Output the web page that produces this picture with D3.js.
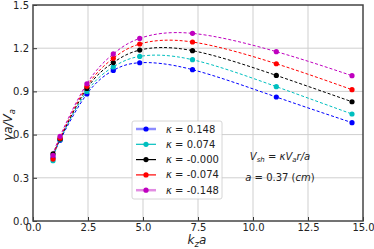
<!DOCTYPE html>
<html>
<head>
<meta charset="utf-8">
<script src="https://cdn.jsdelivr.net/npm/d3@7"></script>
<style>
  body { margin: 0; background: #fff; }
  text { font-family: "DejaVu Sans", sans-serif; }
</style>
</head>
<body>
<div id="chart"></div>
<script>
// data
var kza = [0.91, 1.23, 2.45, 3.65, 4.85, 7.25, 11.06, 14.5];
var kappas = ["0.148", "0.074", "-0.000", "-0.074", "-0.148"];
var colors = ["#0000ff", "#00bfbf", "#000000", "#ff0000", "#bf00bf"];
var gBlue    = [0.44, 0.56, 0.882, 1.046, 1.099, 1.051, 0.861, 0.683];
var gCyan    = [0.419, 0.565, 0.90, 1.07, 1.143, 1.12, 0.933, 0.743];
var gBlack   = [0.467, 0.57, 0.92, 1.10, 1.187, 1.183, 1.011, 0.828];
var gRed     = [0.43, 0.575, 0.935, 1.13, 1.229, 1.243, 1.092, 0.912];
var gMagenta = [0.456, 0.588, 0.953, 1.16, 1.268, 1.303, 1.176, 1.009];
var series = [gBlue, gCyan, gBlack, gRed, gMagenta];
var xTicks = [0, 2.5, 5, 7.5, 10, 12.5, 15];
var yTicks = [0, 0.3, 0.6, 0.9, 1.2, 1.5];

var svgWidth = 374, svgHeight = 249;
var margin = {top: 5, right: 11, bottom: 28, left: 33};
var width = svgWidth - margin.left - margin.right;
var height = svgHeight - margin.top - margin.bottom;

var svg = d3.select("#chart").append("svg")
  .attr("width", svgWidth)
  .attr("height", svgHeight);

var chartGroup = svg.append("g")
  .attr("transform", `translate(${margin.left}, ${margin.top})`);

var x = d3.scaleLinear().domain([0, 15]).range([0, width]);
var y = d3.scaleLinear().domain([0, 1.5]).range([height, 0]);

// grid
chartGroup.append("g").selectAll("line").data(xTicks.slice(1, -1)).enter().append("line")
  .attr("x1", d => x(d)).attr("x2", d => x(d)).attr("y1", 0).attr("y2", height)
  .attr("stroke", "#cfcfcf").attr("stroke-width", 1);
chartGroup.append("g").selectAll("line").data(yTicks.slice(1, -1)).enter().append("line")
  .attr("y1", d => y(d)).attr("y2", d => y(d)).attr("x1", 0).attr("x2", width)
  .attr("stroke", "#cfcfcf").attr("stroke-width", 1);

// axes, ticks pointing inward
var bottomAxis = d3.axisBottom(x).tickValues(xTicks).tickFormat(d3.format(".1f")).tickSizeInner(-4).tickSizeOuter(0).tickPadding(4);
var leftAxis = d3.axisLeft(y).tickValues(yTicks).tickFormat(d3.format(".1f")).tickSizeInner(-4).tickSizeOuter(0).tickPadding(4);

var gx = chartGroup.append("g").attr("transform", `translate(0, ${height})`).call(bottomAxis);
var gy = chartGroup.append("g").call(leftAxis);
[gx, gy].forEach(g => {
  g.select(".domain").remove();
  g.selectAll("line").attr("stroke", "#333");
  g.selectAll("text").attr("font-size", 10).attr("fill", "#222")
    .style("font-family", "'DejaVu Sans', sans-serif");
});
gx.selectAll("text").attr("dy", "0.6em");

// curves
var line = d3.line()
  .x((d, i) => x(kza[i]))
  .y(d => y(d))
  .curve(d3.curveNatural);

series.forEach((s, k) => {
  chartGroup.append("path")
    .datum(s)
    .attr("d", line)
    .attr("fill", "none")
    .attr("stroke", colors[k])
    .attr("stroke-width", 1)
    .attr("stroke-dasharray", "3,2");
});
series.forEach((s, k) => {
  chartGroup.append("g").selectAll("circle").data(s).enter().append("circle")
    .attr("cx", (d, i) => x(kza[i]))
    .attr("cy", d => y(d))
    .attr("r", 2.6)
    .attr("fill", colors[k]);
});

// frame
chartGroup.append("rect")
  .attr("width", width).attr("height", height)
  .attr("fill", "none").attr("stroke", "#444").attr("stroke-width", 1.5);

// legend
var legend = chartGroup.append("g").attr("transform", `translate(${132 - margin.left}, ${121 - margin.top})`);
legend.append("rect")
  .attr("width", 90).attr("height", 78).attr("rx", 2)
  .attr("fill", "#fff").attr("fill-opacity", 0.85)
  .attr("stroke", "#ccc").attr("stroke-width", 0.8);
kappas.forEach((kv, k) => {
  var row = legend.append("g").attr("transform", `translate(0, ${8 + k * 15.3})`);
  row.append("line").attr("x1", 4).attr("x2", 24).attr("y1", 0).attr("y2", 0)
    .attr("stroke", colors[k]).attr("stroke-width", (k === 0 || k === 4) ? 2.5 : 1.2)
    .attr("stroke-opacity", (k === 0 || k === 4) ? 0.45 : 1);
  row.append("circle").attr("cx", 14).attr("cy", 0).attr("r", 2.6).attr("fill", colors[k]);
  var t = row.append("text").attr("x", 34).attr("y", 0).attr("dy", "0.35em").attr("font-size", 10).attr("fill", "#222");
  t.append("tspan").attr("font-style", "italic").text("κ");
  t.append("tspan").text(" = " + kv);
});

// annotation
var ann = chartGroup.append("text")
  .attr("x", 280 - margin.left).attr("y", 156 - margin.top)
  .attr("text-anchor", "middle").attr("dy", "0.35em").attr("font-size", 10).attr("fill", "#222");
ann.append("tspan").attr("font-style", "italic").text("V");
ann.append("tspan").attr("font-style", "italic").attr("font-size", 7).attr("dy", "2").text("sh");
ann.append("tspan").attr("dy", "-2").text(" = ");
ann.append("tspan").attr("font-style", "italic").text("κV");
ann.append("tspan").attr("font-style", "italic").attr("font-size", 7).attr("dy", "2").text("a");
ann.append("tspan").attr("font-style", "italic").attr("dy", "-2").text("r/a");

var ann2 = chartGroup.append("text")
  .attr("x", 280 - margin.left).attr("y", 177 - margin.top)
  .attr("text-anchor", "middle").attr("dy", "0.35em").attr("font-size", 10).attr("fill", "#222");
ann2.append("tspan").attr("font-style", "italic").text("a");
ann2.append("tspan").text(" = 0.37 (");
ann2.append("tspan").attr("font-style", "italic").text("cm");
ann2.append("tspan").text(")");

// axis labels
var xl = svg.append("text")
  .attr("x", 197).attr("y", 244)
  .attr("text-anchor", "middle").attr("font-size", 12).attr("fill", "#222");
xl.append("tspan").attr("font-style", "italic").text("k");
xl.append("tspan").attr("font-style", "italic").attr("font-size", 8.5).attr("dy", "3").text("z");
xl.append("tspan").attr("font-style", "italic").attr("dy", "-3").text("a");

var yl = svg.append("text")
  .attr("transform", "translate(12, 125) rotate(-90)")
  .attr("text-anchor", "middle").attr("font-size", 12).attr("fill", "#222");
yl.append("tspan").attr("font-style", "italic").text("γa/V");
yl.append("tspan").attr("font-style", "italic").attr("font-size", 8.5).attr("dy", "3").text("a");
</script>
</body>
</html>
